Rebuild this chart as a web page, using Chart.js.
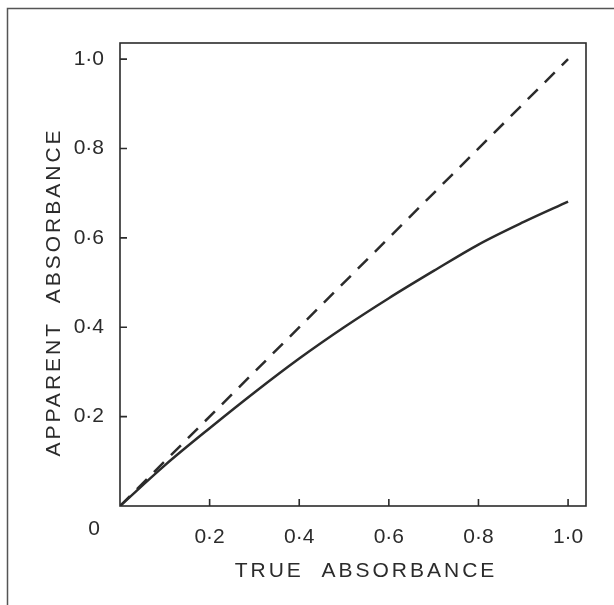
<!DOCTYPE html>
<html>
<head>
<meta charset="utf-8">
<script src="https://cdn.jsdelivr.net/npm/chart.js@4"></script>
<style>
  html, body { margin: 0; padding: 0; background: #fff; }
  #wrap { width: 614px; height: 605px; }
</style>
</head>
<body>
<div id="wrap"><canvas id="chartAbsorbancia"></canvas></div>
<script>
// true absorbance (x) vs apparent absorbance (y)
const verdadeira = [0, 0.1, 0.2, 0.3, 0.4, 0.5, 0.6, 0.7, 0.8, 0.9, 1.0];
const aparente = [0, 0.091, 0.174, 0.254, 0.330, 0.400, 0.465, 0.526, 0.585, 0.635, 0.681];
const ideal = [0, 1.0];
const ticksEixo = [0.2, 0.4, 0.6, 0.8, 1.0];

const fonte = "'Liberation Sans', Arial, sans-serif";
const cor = "#2b2b2b";

const fmt = v => (Math.abs(v) < 1e-9 ? "" : v.toFixed(1).replace(".", "·"));

// draws the box, inside tick marks, corner "0", axis titles and outer frame
const extras = {
    id: "extras",
    afterDraw(chart) {
        const { ctx, chartArea: a, scales: { x, y } } = chart;
        ctx.save();
        ctx.strokeStyle = cor;
        ctx.lineWidth = 1.6;
        ctx.strokeRect(a.left, a.top, a.right - a.left, a.bottom - a.top);

        ctx.beginPath();
        ticksEixo.forEach(v => {
            const px = x.getPixelForValue(v);
            ctx.moveTo(px, a.bottom);
            ctx.lineTo(px, a.bottom - 7);
            const py = y.getPixelForValue(v);
            ctx.moveTo(a.left, py);
            ctx.lineTo(a.left + 7, py);
        });
        ctx.stroke();

        ctx.fillStyle = cor;
        ctx.font = "21px " + fonte;
        ctx.textAlign = "center";
        ctx.textBaseline = "middle";
        ctx.fillText("0", x.getPixelForValue(0) - 26, a.bottom + 23);

        ctx.letterSpacing = "3px";
        ctx.fillText("TRUE  ABSORBANCE", 366, 571);
        ctx.translate(54, 292);
        ctx.rotate(-Math.PI / 2);
        ctx.fillText("APPARENT  ABSORBANCE", 0, 0);
        ctx.restore();

        // outer frame (left and top only)
        ctx.save();
        ctx.strokeStyle = "#555";
        ctx.lineWidth = 1.5;
        ctx.beginPath();
        ctx.moveTo(7.5, 605);
        ctx.lineTo(7.5, 8.5);
        ctx.lineTo(614, 8.5);
        ctx.stroke();
        ctx.restore();
    }
};

new Chart(document.getElementById("chartAbsorbancia"), {
    type: "scatter",
    data: {
        datasets: [
            {
                label: "Aparente",
                data: verdadeira.map((v, i) => ({ x: v, y: aparente[i] })),
                showLine: true,
                borderColor: cor,
                borderWidth: 2.5,
                pointRadius: 0,
                cubicInterpolationMode: "monotone"
            },
            {
                label: "Ideal",
                data: ideal.map(v => ({ x: v, y: v })),
                showLine: true,
                borderColor: cor,
                borderWidth: 2.5,
                borderDash: [14, 10],
                pointRadius: 0
            }
        ]
    },
    options: {
        responsive: true,
        maintainAspectRatio: false,
        animation: false,
        layout: { padding: { left: 0, top: 43, right: 28, bottom: 0 } },
        plugins: {
            legend: { display: false },
            tooltip: { enabled: false }
        },
        scales: {
            x: {
                type: "linear",
                min: 0,
                max: 1.04,
                grid: { display: false },
                border: { display: false },
                afterFit: s => { s.height = 99; },
                ticks: {
                    stepSize: 0.2,
                    includeBounds: false,
                    padding: 11,
                    color: cor,
                    font: { family: fonte, size: 21 },
                    callback: fmt
                }
            },
            y: {
                type: "linear",
                min: 0,
                max: 1.036,
                grid: { display: false },
                border: { display: false },
                afterFit: s => { s.width = 120; },
                ticks: {
                    stepSize: 0.2,
                    includeBounds: false,
                    padding: 8,
                    color: cor,
                    font: { family: fonte, size: 21 },
                    callback: fmt
                }
            }
        }
    },
    plugins: [extras]
});
</script>
</body>
</html>
